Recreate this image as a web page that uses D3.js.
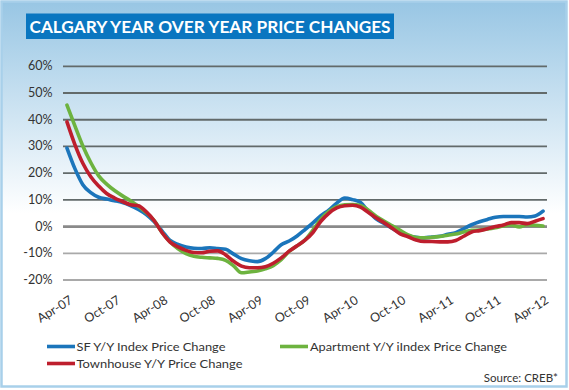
<!DOCTYPE html>
<html><head><meta charset="utf-8">
<script src="https://cdn.jsdelivr.net/npm/d3@7"></script>
<style>body{margin:0;background:#fff;} svg{display:block;font-family:Lato,'Open Sans',sans-serif;}</style>
</head><body><svg id="c" width="569" height="390"></svg>
<script>
const months = ["Apr-07","May-07","Jun-07","Jul-07","Aug-07","Sep-07","Oct-07","Nov-07","Dec-07",
"Jan-08","Feb-08","Mar-08","Apr-08","May-08","Jun-08","Jul-08","Aug-08","Sep-08","Oct-08","Nov-08","Dec-08",
"Jan-09","Feb-09","Mar-09","Apr-09","May-09","Jun-09","Jul-09","Aug-09","Sep-09","Oct-09","Nov-09","Dec-09",
"Jan-10","Feb-10","Mar-10","Apr-10","May-10","Jun-10","Jul-10","Aug-10","Sep-10","Oct-10","Nov-10","Dec-10",
"Jan-11","Feb-11","Mar-11","Apr-11","May-11","Jun-11","Jul-11","Aug-11","Sep-11","Oct-11","Nov-11","Dec-11",
"Jan-12","Feb-12","Mar-12","Apr-12"];
const tickLabels = ["Apr-07","Oct-07","Apr-08","Oct-08","Apr-09","Oct-09","Apr-10","Oct-10","Apr-11","Oct-11","Apr-12"];
const yTicks = [-20,-10,0,10,20,30,40,50,60];
const sfValues = [29.2,21.5,15.5,12.5,10.8,10.1,9.5,8.8,7.7,6.2,4.3,1.6,-1.9,-5.4,-6.9,-7.8,-8.3,-8.4,-8.1,-8.4,-8.7,
-10.5,-12.2,-13.0,-13.3,-12.2,-9.8,-7.0,-5.6,-3.7,-1.3,1.2,3.9,6.0,8.6,10.5,9.9,8.8,5.5,2.6,0.9,-0.9,-2.6,-3.6,
-4.2,-4.4,-4.1,-3.8,-3.1,-2.5,-1.0,0.5,1.6,2.5,3.3,3.6,3.6,3.6,3.4,3.8,5.6];
const aptValues = [45.3,37.5,30.0,23.8,18.8,15.7,13.3,11.3,9.5,7.4,5.0,2.0,-2.5,-6.0,-8.5,-10.3,-11.3,-11.7,-11.9,-12.1,-12.8,
-14.9,-17.5,-17.2,-16.8,-16.0,-14.8,-12.6,-9.5,-7.4,-5.2,-1.5,2.6,5.5,7.3,8.0,8.1,7.7,5.9,3.6,1.8,0.1,-1.6,-3.3,
-4.3,-4.4,-4.2,-3.9,-3.4,-3.0,-2.2,-1.6,-1.5,-1.1,-0.6,0.0,0.4,-0.3,0.5,0.3,0.0];
const townValues = [39.0,30.5,23.5,18.5,15.0,12.2,10.5,9.2,8.0,7.6,5.3,2.0,-2.5,-6.0,-7.8,-9.1,-9.9,-10.0,-9.4,-9.3,-10.8,
-13.2,-15.0,-15.6,-15.6,-15.2,-13.9,-11.9,-9.4,-7.4,-5.3,-2.4,1.8,4.8,6.8,7.6,7.8,7.1,5.1,3.0,1.2,-0.8,-2.9,-4.0,
-5.2,-5.8,-5.8,-5.9,-5.9,-5.4,-3.8,-2.2,-1.7,-1.0,-0.2,0.4,1.3,1.3,0.9,1.8,2.8];
const seriesNames = ["SF Y/Y Index Price Change","Apartment Y/Y iIndex Price Change","Townhouse Y/Y Price Change"];
const seriesColors = ["#1b75bb","#6db33f","#be1e2d"];
const titleText = "CALGARY YEAR OVER YEAR PRICE CHANGES";
const sourceText = "Source: CREB*";

const series = [sfValues, aptValues, townValues].map((v,k)=>({name:seriesNames[k],color:seriesColors[k],values:v}));

const svg = d3.select("#c");
const defs = svg.append("defs");
const grad = defs.append("linearGradient").attr("id","bg").attr("x1",0).attr("y1",0).attr("x2",0).attr("y2",1);
grad.append("stop").attr("offset","0").attr("stop-color","#98c6e4");
grad.append("stop").attr("offset","0.55").attr("stop-color","#ffffff");
grad.append("stop").attr("offset","1").attr("stop-color","#ffffff");

svg.append("rect").attr("x",1.5).attr("y",1.5).attr("width",565).attr("height",385)
  .attr("fill","url(#bg)").attr("stroke","#a8d0ea").attr("stroke-width",2.5);

// title
svg.append("rect").attr("x",26).attr("y",13.5).attr("width",368).attr("height",25.5).attr("fill","#0a76c0");
svg.append("text").attr("x",29.5).attr("y",32.5).attr("fill","#fff").attr("font-weight","bold")
  .attr("font-size",17).attr("textLength",361).attr("lengthAdjust","spacingAndGlyphs").text(titleText);

const plotL = 63, plotR = 547;
const x = d3.scalePoint().domain(months).range([plotL, plotR]).padding(0.5);
const y = d3.scaleLinear().domain([-20,60]).range([279.5,65.8]);

// y grid + labels
const yAxis = svg.append("g").attr("transform",`translate(${plotL},0)`)
  .call(d3.axisLeft(y).tickValues(yTicks).tickSize(-(plotR-plotL)).tickPadding(10.5).tickFormat(d=>d+"%"));
yAxis.select(".domain").remove();
yAxis.selectAll(".tick line")
  .attr("stroke", d => d>0 ? "#626a6a" : (d===0 ? "#8a8a8a" : "#a9a9a9"))
  .attr("stroke-width", d => d===0 ? 2.6 : 1.8);
yAxis.selectAll(".tick text").attr("fill","#333").attr("font-size",12.5).attr("font-family","Lato,'Open Sans',sans-serif");

// x labels
const xAxis = svg.append("g").attr("transform",`translate(0,${y(-20)})`)
  .call(d3.axisBottom(x).tickValues(tickLabels).tickSize(0));
xAxis.select(".domain").remove();
xAxis.selectAll(".tick text")
  .attr("fill","#333").attr("font-size",12.5).attr("font-family","Lato,'Open Sans',sans-serif")
  .attr("text-anchor","end").attr("dy","0.75em")
  .attr("transform","translate(1,15) rotate(-32)").attr("y",0).attr("x",0);

// lines
const line = d3.line().x((d,i)=>x(months[i])).y(d=>y(d)).curve(d3.curveMonotoneX);
svg.append("g").selectAll("path").data(series).join("path")
  .attr("d",d=>line(d.values)).attr("fill","none").attr("stroke",d=>d.color)
  .attr("stroke-width",3.6).attr("stroke-linejoin","round").attr("stroke-linecap","round");

// legend
const legPos = [[47,346.5,76.5,149],[280,346.5,310,197],[47,363.5,76.5,166]];
const leg = svg.append("g");
series.forEach((s,k)=>{
  const p = legPos[k];
  leg.append("line").attr("x1",p[0]).attr("x2",p[0]+28).attr("y1",p[1]).attr("y2",p[1])
    .attr("stroke",s.color).attr("stroke-width",3.6);
  leg.append("text").attr("x",p[2]).attr("y",p[1]+4.2).attr("font-size",12).attr("fill","#333")
    .attr("textLength",p[3]).attr("lengthAdjust","spacingAndGlyphs").text(s.name);
});
svg.append("text").attr("x",558).attr("y",382).attr("text-anchor","end").attr("font-size",11.5)
  .attr("fill","#333").text(sourceText);
</script></body></html>
